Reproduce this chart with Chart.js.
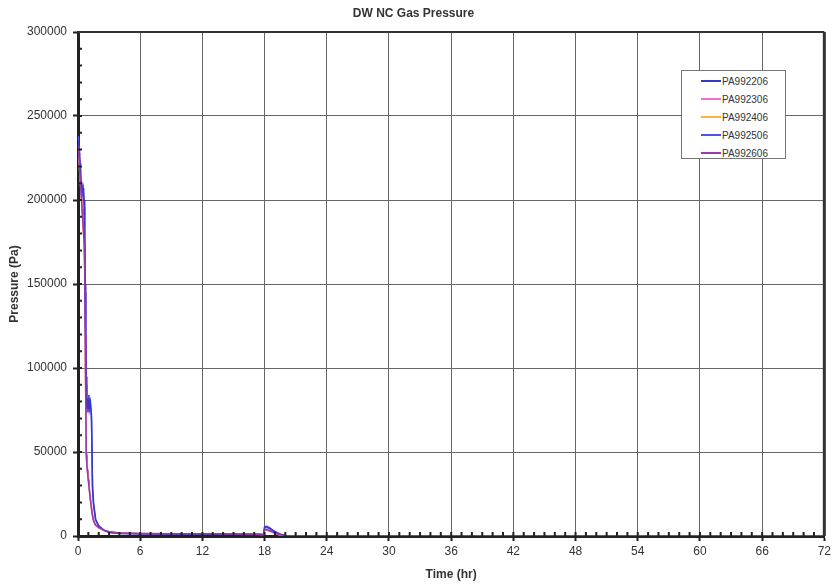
<!DOCTYPE html>
<html>
<head>
<meta charset="utf-8">
<script src="https://cdn.jsdelivr.net/npm/chart.js@4.4.1/dist/chart.umd.min.js"></script>
<style>
  body { margin: 0; background: #fff; }
  #wrap { position: relative; width: 834px; height: 587px; }
  #legend {
    position: absolute; left: 681px; top: 70px; width: 105px; height: 89px;
    border: 1px solid #777; background: #fff; box-sizing: border-box;
    font: 10px 'Liberation Sans', Arial, sans-serif; color: #333; padding-top: 1px;
  }
  .row { height: 18px; display: flex; align-items: center; padding-left: 19px; }
  .swatch { width: 20px; height: 2px; margin-right: 1px; }
</style>
</head>
<body>
<div id="wrap">
  <canvas id="chart" width="834" height="587"></canvas>
  <div id="legend"></div>
</div>
<script>
// ---- data ----
const timeHr = [0, 0.05, 0.1, 0.15, 0.2, 0.25, 0.3, 0.35, 0.4, 0.45, 0.5, 0.55, 0.6, 0.65, 0.7, 0.75, 0.8, 0.85, 0.9, 0.95,
  1.0, 1.05, 1.1, 1.2, 1.3, 1.4, 1.5, 1.7, 2.0, 2.5, 3.0, 4.0, 6.0, 9.0, 12.0, 15.0, 17.5, 17.9, 18.0, 18.2,
  18.5, 18.8, 19.2, 19.6, 20.0, 20.5, 24, 36, 48, 60, 72];

const pa992206 = [235000, 232000, 228000, 226000, 222000, 215000, 210000, 206000, 208000, 205000, 207000, 203000, 200000, 180000, 150000, 120000, 95000, 78000, 76000, 82000,
  80000, 84000, 77000, 80000, 72000, 30000, 20000, 10000, 6000, 3500, 2200, 1600, 1300, 1200, 1100, 1000, 900, 700, 5500, 5800,
  4800, 3500, 2000, 900, 300, 0, 0, 0, 0, 0, 0];
const pa992306 = [230000, 226000, 228000, 220000, 215000, 210000, 205000, 200000, 195000, 190000, 185000, 180000, 175000, 160000, 120000, 80000, 50000, 44000, 40000, 37000,
  34000, 31000, 28000, 22000, 17000, 12500, 9500, 6500, 5000, 3500, 2500, 1800, 1500, 1400, 1300, 1200, 1100, 900, 3500, 3800,
  3000, 2200, 1200, 500, 150, 0, 0, 0, 0, 0, 0];
const pa992406 = [228000, 225000, 222000, 218000, 212000, 208000, 203000, 198000, 193000, 188000, 183000, 178000, 172000, 155000, 115000, 78000, 49000, 43000, 39000, 36000,
  33000, 30000, 27000, 21000, 16000, 12000, 9000, 6300, 4800, 3400, 2400, 1700, 1400, 1300, 1200, 1100, 1000, 800, 3200, 3500,
  2800, 2000, 1100, 450, 120, 0, 0, 0, 0, 0, 0];
const pa992506 = [238000, 234000, 230000, 224000, 218000, 212000, 206000, 203000, 205000, 202000, 204000, 200000, 196000, 178000, 145000, 115000, 90000, 80000, 74000, 80000,
  78000, 82000, 75000, 78000, 70000, 28000, 18000, 9500, 5800, 3300, 2100, 1500, 1300, 1200, 1100, 1000, 900, 700, 4800, 5200,
  4300, 3100, 1800, 800, 250, 0, 0, 0, 0, 0, 0];
const pa992606 = [232000, 228000, 224000, 219000, 214000, 209000, 204000, 199000, 194000, 189000, 184000, 179000, 174000, 158000, 118000, 79000, 48000, 43000, 39000, 36000,
  33000, 30000, 27000, 21500, 16500, 12000, 9000, 6500, 5000, 3500, 2500, 1800, 1500, 1400, 1300, 1200, 1100, 900, 3600, 3900,
  3100, 2300, 1300, 550, 150, 0, 0, 0, 0, 0, 0];

const seriesNames = ['PA992206', 'PA992306', 'PA992406', 'PA992506', 'PA992606'];
const seriesValues = [pa992206, pa992306, pa992406, pa992506, pa992606];
const seriesColors = ['#3838c8', '#f070d0', '#ffb040', '#5050f0', '#9a3aa8'];
const seriesOrder = [1, 3, 4, 2, 0];

const xTickStep = 6;
const yTickStep = 50000;

const axisFont = "'Liberation Sans', Arial, sans-serif";

// minor tick marks along the axes (inside the plot) + top/right frame
const minorTicks = {
  id: 'minorTicks',
  afterDraw(chart) {
    const { ctx, chartArea, scales } = chart;
    ctx.save();
    ctx.strokeStyle = '#222';
    ctx.lineWidth = 2;
    ctx.beginPath();
    for (let v = 1; v < 72; v++) {
      const x = scales.x.getPixelForValue(v);
      ctx.moveTo(x, chartArea.bottom);
      ctx.lineTo(x, chartArea.bottom - 4);
    }
    for (let v = 10000; v < 300000; v += 10000) {
      const y = scales.y.getPixelForValue(v);
      ctx.moveTo(chartArea.left, y);
      ctx.lineTo(chartArea.left + 4, y);
    }
    ctx.stroke();
    ctx.strokeStyle = '#333';
    ctx.lineWidth = 2;
    ctx.beginPath();
    ctx.moveTo(chartArea.left, chartArea.top);
    ctx.lineTo(chartArea.right, chartArea.top);
    ctx.stroke();
    ctx.lineWidth = 3;
    ctx.beginPath();
    ctx.moveTo(chartArea.right, chartArea.top);
    ctx.lineTo(chartArea.right, chartArea.bottom);
    ctx.stroke();
    ctx.restore();
  }
};

const datasets = seriesNames.map((name, i) => ({
  label: name,
  data: timeHr.map((t, k) => ({ x: t, y: seriesValues[i][k] })),
  borderColor: seriesColors[i],
  backgroundColor: seriesColors[i],
  borderWidth: 1.5,
  pointRadius: 0,
  tension: 0,
  fill: false,
  order: seriesOrder[i]
}));

const chart = new Chart(document.getElementById('chart'), {
  type: 'line',
  data: { datasets: datasets },
  options: {
    responsive: false,
    animation: false,
    layout: { padding: { left: 0, right: 7, top: 0, bottom: 0 } },
    plugins: {
      legend: { display: false },
      tooltip: { enabled: false },
      title: {
        display: true,
        text: 'DW NC Gas Pressure',
        color: '#333',
        font: { family: axisFont, size: 12, weight: 'bold' },
        padding: { top: 6, bottom: 11.6 }
      }
    },
    scales: {
      x: {
        type: 'linear',
        min: 0,
        max: 72,
        afterFit: function(scale) { scale.height = 51; },
        border: { color: '#222', width: 3 },
        grid: { color: '#666', lineWidth: 1, tickLength: 5, tickColor: '#222', tickWidth: 2 },
        ticks: {
          stepSize: xTickStep,
          padding: 3,
          color: '#333',
          maxRotation: 0,
          font: { family: axisFont, size: 12 },
          callback: function(value) { return String(value); }
        },
        title: {
          display: true,
          text: 'Time (hr)',
          color: '#333',
          font: { family: axisFont, size: 12, weight: 'bold' },
          padding: { top: 5, bottom: 5 }
        }
      },
      y: {
        min: 0,
        max: 300000,
        afterFit: function(scale) { scale.width = 78; },
        border: { color: '#222', width: 3 },
        grid: { color: '#666', lineWidth: 1, tickLength: 5, tickColor: '#222', tickWidth: 2 },
        ticks: {
          stepSize: yTickStep,
          padding: 6,
          color: '#333',
          font: { family: axisFont, size: 12 },
          callback: function(value) { return String(value); }
        },
        title: {
          display: true,
          text: 'Pressure (Pa)',
          color: '#333',
          font: { family: axisFont, size: 12, weight: 'bold' },
          padding: { top: 7, bottom: 7 }
        }
      }
    }
  },
  plugins: [minorTicks]
});

// HTML legend built from the datasets
const legendEl = document.getElementById('legend');
chart.data.datasets.forEach(ds => {
  const row = document.createElement('div');
  row.className = 'row';
  const sw = document.createElement('span');
  sw.className = 'swatch';
  sw.style.background = ds.borderColor;
  const txt = document.createElement('span');
  txt.textContent = ds.label;
  row.appendChild(sw);
  row.appendChild(txt);
  legendEl.appendChild(row);
});
</script>
</body>
</html>
